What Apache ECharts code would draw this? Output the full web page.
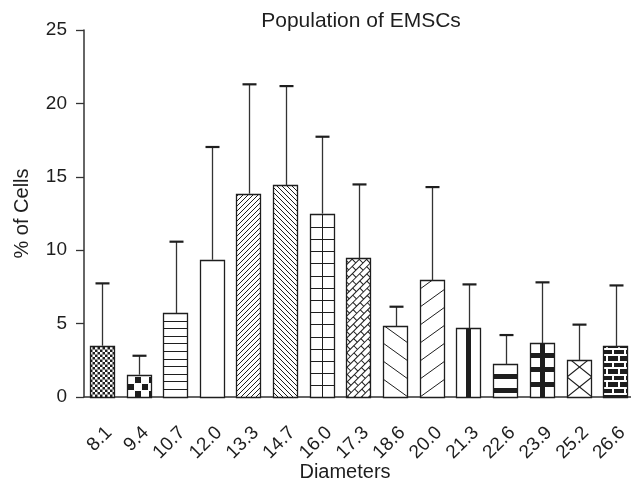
<!DOCTYPE html>
<html>
<head>
<meta charset="utf-8">
<script src="https://cdn.jsdelivr.net/npm/echarts@6/dist/echarts.min.js"></script>
<style>
  html, body { margin: 0; padding: 0; background: #fff; }
  #chart { width: 631px; height: 487px; }
</style>
</head>
<body>
<div id="chart"></div>
<script>
// cell diameters (x categories)
const diameters = ['8.1', '9.4', '10.7', '12.0', '13.3', '14.7', '16.0', '17.3',
  '18.6', '20.0', '21.3', '22.6', '23.9', '25.2', '26.6'];
// mean % of cells per diameter
const meanPercent = [3.49, 1.52, 5.72, 9.35, 13.85, 14.44, 12.49, 9.44,
  4.81, 7.94, 4.67, 2.22, 3.68, 2.49, 3.45];
// upper error (SD)
const sdPercent = [4.25, 1.29, 4.86, 7.68, 7.45, 6.74, 5.24, 5.04,
  1.34, 6.36, 3.0, 2.0, 4.13, 2.44, 4.15];
const yTicks = [0, 5, 10, 15, 20, 25];

const FONT = '"Liberation Sans", Arial, sans-serif';
const INK = '#1e1e1e';

// --- hatch patterns, one per bar ---
function line(ctx, x1, y1, x2, y2) {
  ctx.beginPath();
  ctx.moveTo(x1, y1);
  ctx.lineTo(x2, y2);
  ctx.stroke();
}

function hline(ctx, w, y) {
  const yy = Math.round(y) + 0.5;
  line(ctx, 0, yy, w, yy);
}

function slantLines(ctx, w, h, slope, step, dir) {
  // dir 1 = "/", -1 = "\"
  for (let y0 = h - Math.ceil((h + w * slope) / step + 1) * step; y0 < h + step; y0 += step) {
    if (dir > 0) line(ctx, 0, y0 + w * slope, w, y0);
    else line(ctx, 0, y0, w, y0 + w * slope);
  }
}

const painters = [
  // 0 fine checker
  (ctx, w, h) => {
    const c = 2.5;
    for (let r = 0; r * c < h; r++) {
      for (let k = 0; k * c < w; k++) {
        if ((r + k) % 2 === 0) ctx.fillRect(k * c, h - (r + 1) * c, c, c);
      }
    }
  },
  // 1 coarse checker
  (ctx, w, h) => {
    const c = 7;
    for (let r = 0; r * c < h + c; r++) {
      for (let k = 0; k * c < w; k++) {
        if ((r + k) % 2 === 1) ctx.fillRect(k * c + 1, h - (r + 1) * c + 1, c - 1, c - 1);
      }
    }
  },
  // 2 horizontal lines
  (ctx, w, h) => {
    for (let y = h - 8; y > 1; y -= 7.6) hline(ctx, w, y);
  },
  // 3 empty
  () => {},
  // 4 dense "/"
  (ctx, w, h) => slantLines(ctx, w, h, 1, 5, 1),
  // 5 dense "\"
  (ctx, w, h) => slantLines(ctx, w, h, 1, 5, -1),
  // 6 grid: horizontal lines + centre vertical
  (ctx, w, h) => {
    for (let y = h - 11.6; y > 1; y -= 12.2) hline(ctx, w, y);
    const xx = Math.floor(w / 2) + 0.5;
    line(ctx, xx, 0, xx, h);
  },
  // 7 diagonal bricks
  (ctx, w, h) => {
    ctx.save();
    ctx.translate(w / 2, h / 2);
    ctx.rotate(-Math.PI / 4);
    const s = 5.2, b = 10, R = Math.hypot(w, h);
    let row = 0;
    for (let y = -R; y < R; y += s, row++) {
      line(ctx, -R, y, R, y);
      const off = (row % 2) * b / 2;
      for (let x = -R + off; x < R; x += b) line(ctx, x, y, x, y + s);
    }
    ctx.restore();
  },
  // 8 sparse "\"
  (ctx, w, h) => slantLines(ctx, w, h, 0.72, 18, -1),
  // 9 sparse "/"
  (ctx, w, h) => slantLines(ctx, w, h, 0.72, 18, 1),
  // 10 thick centre vertical
  (ctx, w, h) => { ctx.fillRect(Math.floor(w / 2) - 2, 0, 5, h); },
  // 11 thick horizontal bands
  (ctx, w, h) => {
    ctx.fillRect(0, Math.round(h - 6.3 - 2.5), w, 5);
    ctx.fillRect(0, Math.round(h - 20.6 - 2.5), w, 5);
  },
  // 12 thick cross grid
  (ctx, w, h) => {
    for (let y = h - 13; y > 4; y -= 14.3) ctx.fillRect(0, Math.round(y - 2.3), w, 5);
    ctx.fillRect(Math.floor(w / 2) - 2, 0, 5, h);
  },
  // 13 X crosses
  (ctx, w, h) => {
    ctx.lineWidth = 1.1;
    slantLines(ctx, w, h, 0.8, 20, 1);
    slantLines(ctx, w, h, 0.8, 20, -1);
  },
  // 14 black bricks, white mortar
  (ctx, w, h) => {
    ctx.fillRect(0, 0, w, h);
    ctx.strokeStyle = '#fff';
    ctx.lineWidth = 2;
    const s = 6.5, b = 12;
    let row = 0;
    for (let y = h - 3; y > 0; y -= s, row++) {
      line(ctx, 0, Math.round(y), w, Math.round(y));
      const off = (row % 2) ? 4 : 10;
      for (let x = off; x < w; x += b) line(ctx, x, Math.round(y), x, Math.round(y - s));
    }
  }
];

function patternImage(idx, w, h) {
  const cv = document.createElement('canvas');
  cv.width = Math.max(1, w);
  cv.height = Math.max(1, h);
  const ctx = cv.getContext('2d');
  ctx.fillStyle = '#fff';
  ctx.fillRect(0, 0, cv.width, cv.height);
  ctx.fillStyle = INK;
  ctx.strokeStyle = INK;
  ctx.lineWidth = 1;
  ctx.save();
  ctx.beginPath();
  ctx.rect(0, 0, cv.width, cv.height);
  ctx.clip();
  painters[idx](ctx, cv.width, cv.height);
  ctx.restore();
  return cv;
}

function renderBar(params, api) {
  const i = api.value(0);
  const top = api.coord([i, api.value(1)]);
  const base = api.coord([i, 0]);
  const bw = Math.round(api.size([1, 0])[0] * 0.68);
  const x = Math.round(top[0] - bw / 2);
  const y = Math.round(top[1]);
  const h = Math.round(base[1]) - y;
  return {
    type: 'group',
    children: [
      { type: 'image', style: { image: patternImage(i, bw, h), x: x, y: y, width: bw, height: h } },
      { type: 'rect', shape: { x: x + 0.5, y: y + 0.5, width: bw - 1, height: h },
        style: { fill: 'none', stroke: INK, lineWidth: 1.3 } }
    ]
  };
}

function renderError(params, api) {
  const i = api.value(0);
  const mean = api.value(1);
  const sd = api.value(2);
  const p0 = api.coord([i, mean]);
  const p1 = api.coord([i, mean + sd]);
  const cx = Math.round(p0[0]) + 0.5;
  const cap = 14;
  return {
    type: 'group',
    children: [
      { type: 'line', shape: { x1: cx, y1: p0[1], x2: cx, y2: p1[1] },
        style: { stroke: '#333', lineWidth: 1.3 } },
      { type: 'line', shape: { x1: cx - cap / 2, y1: p1[1], x2: cx + cap / 2, y2: p1[1] },
        style: { stroke: INK, lineWidth: 2.2 } }
    ]
  };
}

const chart = echarts.init(document.getElementById('chart'), null, { renderer: 'canvas' });

chart.setOption({
  animation: false,
  backgroundColor: '#fff',
  title: {
    text: 'Population of EMSCs',
    left: 356,
    top: 6,
    textAlign: 'center',
    textStyle: { fontFamily: FONT, fontSize: 21, fontWeight: 'normal', color: INK }
  },
  grid: { left: 84, top: 30, width: 550, height: 367, outerBoundsMode: 'none', containLabel: false },
  xAxis: {
    type: 'category',
    data: diameters,
    name: 'Diameters',
    nameLocation: 'middle',
    nameGap: 65,
    nameMoveOverlap: false,
    nameTextStyle: { fontFamily: FONT, fontSize: 20, color: INK, padding: [0, 28, 0, 0] },
    axisLine: { lineStyle: { color: '#333', width: 1.5 } },
    axisTick: { alignWithLabel: true, length: 11, lineStyle: { color: '#333', width: 1.3 } },
    axisLabel: { rotate: 45, margin: 26, verticalAlign: 'top', fontFamily: FONT, fontSize: 19, color: INK }
  },
  yAxis: {
    type: 'value',
    min: yTicks[0],
    max: yTicks[yTicks.length - 1],
    interval: yTicks[1] - yTicks[0],
    name: '% of Cells',
    nameLocation: 'middle',
    nameGap: 52,
    nameTextStyle: { fontFamily: FONT, fontSize: 20, color: INK },
    axisLine: { show: true, lineStyle: { color: '#333', width: 1.5 } },
    axisTick: { show: true, length: 8, lineStyle: { color: '#333', width: 1.3 } },
    axisLabel: { margin: 17, fontFamily: FONT, fontSize: 19, color: INK },
    splitLine: { show: false }
  },
  series: [
    {
      type: 'custom',
      renderItem: renderBar,
      data: meanPercent.map((v, i) => [i, v]),
      z: 2
    },
    {
      type: 'custom',
      renderItem: renderError,
      data: meanPercent.map((v, i) => [i, v, sdPercent[i]]),
      z: 3
    }
  ]
});
</script>
</body>
</html>
